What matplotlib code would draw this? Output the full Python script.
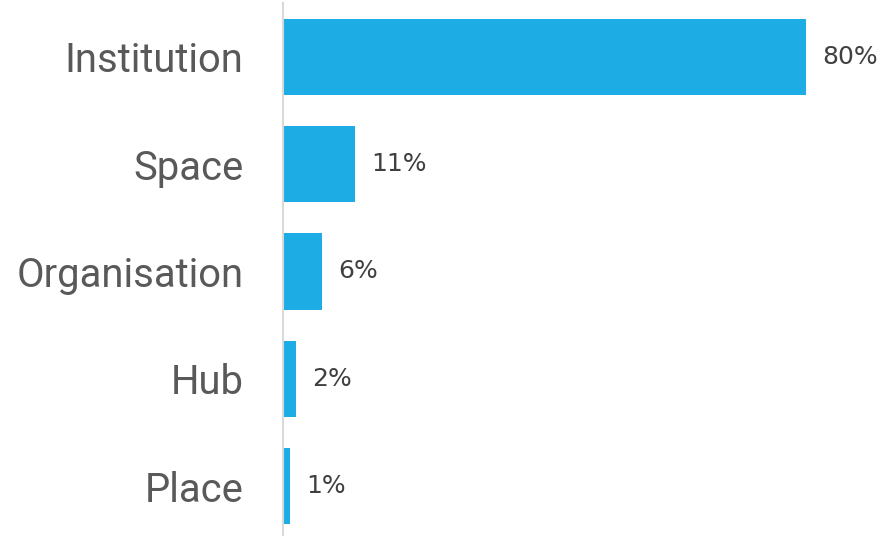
import matplotlib
matplotlib.use("Agg")
import matplotlib.pyplot as plt

categories = ["Institution", "Space", "Organisation", "Hub", "Place"]
values = [80, 11, 6, 2, 1]
value_labels = ["80%", "11%", "6%", "2%", "1%"]

BAR_COLOR = "#1DADE4"

fig = plt.figure(figsize=(8.86, 5.36), dpi=100)
W, H = 886, 536
ax = fig.add_axes([283 / W, 0, (W - 283) / W, (536 - 3) / H])

y = list(range(len(categories)))
ax.barh(y, values, height=0.71, color=BAR_COLOR)

ax.set_xlim(0, (W - 283) / 6.54)
ax.set_ylim(4.466, -0.503)

ax.set_yticks(y)
ax.set_yticklabels(categories, fontsize=28.8, color="#595959", family="Roboto")
ax.tick_params(axis="y", length=0, pad=28.5)
ax.set_xticks([])

for s in ["top", "right", "bottom"]:
    ax.spines[s].set_visible(False)
ax.spines["left"].set_color("#d9d9d9")
ax.spines["left"].set_linewidth(1.5)

for yi, v, lab in zip(y, values, value_labels):
    ax.text(v + 2.5, yi, lab, va="center", ha="left", fontsize=18,
            color="#404040", family="DejaVu Sans")

fig.savefig("out.png", dpi=100)
